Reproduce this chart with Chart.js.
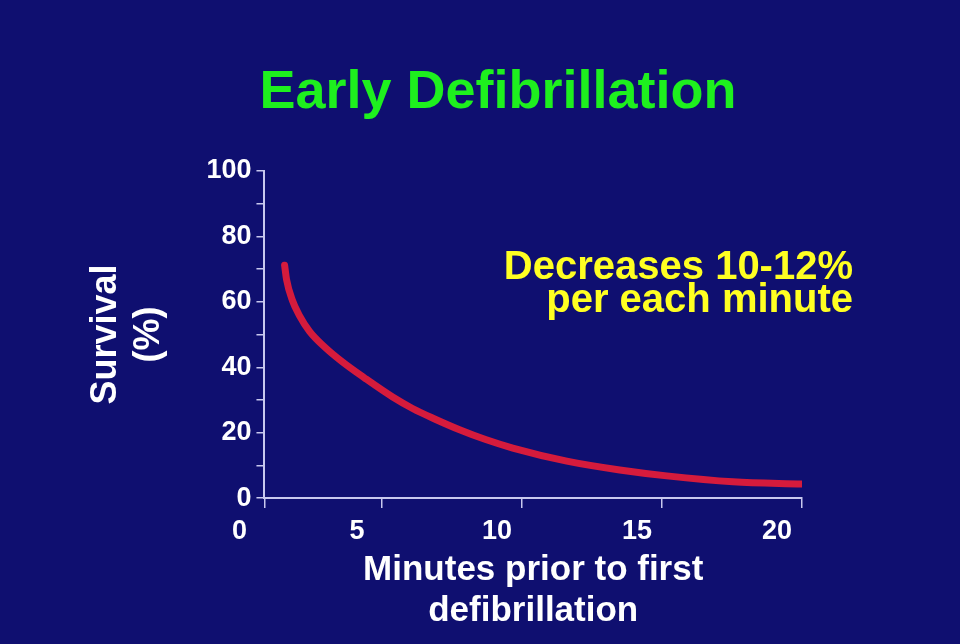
<!DOCTYPE html>
<html>
<head>
<meta charset="utf-8">
<script src="https://cdn.jsdelivr.net/npm/chart.js@4.4.1/dist/chart.umd.min.js"></script>
<style>
  html,body{margin:0;padding:0;background:#0F0F70;}
  #wrap{width:960px;height:644px;position:relative;}
</style>
</head>
<body>
<div id="wrap"><canvas id="chart" width="960" height="644"></canvas></div>
<script>
/* ===== Data ===== */
const minutes  = [1.52, 1.59, 1.80, 2.05, 2.41, 2.95, 3.59, 4.38, 5.38, 6.09, 6.88, 7.77, 8.70, 9.67, 11.60, 13.49, 15.17, 17.53, 20.0];
const survival = [71.2, 66.8, 60.4, 55.8, 51.0, 46.2, 41.6, 36.7, 30.9, 27.4, 24.2, 20.9, 17.9, 15.3, 11.3,  8.6,   6.8,   5.0,  4.3];
const xTicks   = [0.8, 5, 10, 15, 20];   // first tick is the axis origin, shown as "0"
const yTicks   = [0, 20, 40, 60, 80, 100];

const titleText = 'Early Defibrillation';
const noteLines = ['Decreases 10-12%', 'per each minute'];
const yTitle    = ['Survival', '(%)'];
const xTitle    = ['Minutes prior to first', 'defibrillation'];

const FONT = "'Liberation Sans', Arial, sans-serif";
const AXIS = '#C8C8EE';

/* ===== Slide texts + background ===== */
const slidePlugin = {
  id:'slide',
  beforeDraw(chart){
    const c = chart.ctx;
    c.save();
    c.fillStyle = '#0F0F70';
    c.fillRect(0,0,chart.width,chart.height);
    c.restore();
  },
  afterDraw(chart){
    const c = chart.ctx;
    c.save();
    c.textBaseline = 'alphabetic';
    c.fillStyle = '#1EF01E';
    c.font = 'bold 54px ' + FONT;
    c.textAlign = 'center';
    c.fillText(titleText, 498, 108);

    c.fillStyle = '#FFFF22';
    c.font = 'bold 40px ' + FONT;
    c.textAlign = 'right';
    c.fillText(noteLines[0], 853, 279);
    c.fillText(noteLines[1], 853, 312);
    c.restore();
  }
};

new Chart(document.getElementById('chart'), {
  type:'line',
  data:{ datasets:[{
    data: minutes.map((m,i)=>({x:m, y:survival[i]})),
    borderColor:'#D51B3C', borderWidth:7, borderCapStyle:'round', borderJoinStyle:'round',
    pointRadius:0, cubicInterpolationMode:'monotone', fill:false
  }]},
  options:{
    responsive:false, animation:false,
    layout:{ padding:{ left:56, right:158, top:171, bottom:5 } },
    plugins:{ legend:{display:false}, tooltip:{enabled:false} },
    scales:{
      x:{
        type:'linear', min:xTicks[0], max:20,
        afterBuildTicks: ax => { ax.ticks = xTicks.map(v=>({value:v})); },
        grid:{ drawOnChartArea:false, drawTicks:true, tickLength:10, color:AXIS, lineWidth:1.5 },
        border:{ color:AXIS, width:2 },
        ticks:{
          color:'#FFFFFF', font:{family:FONT, size:27, weight:'bold'},
          padding:7, labelOffset:-25, maxRotation:0, autoSkip:false,
          callback: v => v === xTicks[0] ? '0' : v
        },
        title:{
          display:true, text:xTitle, color:'#FFFFFF',
          font:{family:FONT, size:35, weight:'bold', lineHeight:1.15},
          padding:{top:-4, bottom:8}
        }
      },
      y:{
        min:0, max:100,
        afterBuildTicks: ax => {
          const t = [];
          for(let v=0; v<=100; v+=10) t.push({value:v});
          ax.ticks = t;
        },
        grid:{ drawOnChartArea:false, drawTicks:true, tickLength:8, color:AXIS, lineWidth:1.5 },
        border:{ color:AXIS, width:2 },
        ticks:{
          color:'#FFFFFF', font:{family:FONT, size:27, weight:'bold'},
          padding:5, autoSkip:false,
          callback: v => yTicks.includes(v) ? v : ''
        },
        title:{
          display:true, text:yTitle, color:'#FFFFFF',
          font:{family:FONT, size:36, weight:'bold', lineHeight:1.2},
          padding:{top:28, bottom:31}
        }
      }
    }
  },
  plugins:[slidePlugin]
});
</script>
</body>
</html>
